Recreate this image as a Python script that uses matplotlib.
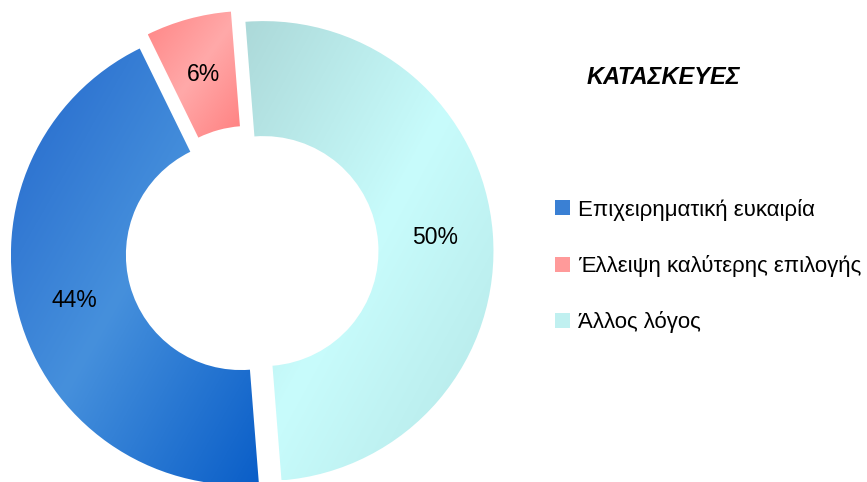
import numpy as np
import matplotlib
matplotlib.use("Agg")
import matplotlib.pyplot as plt
from matplotlib.colors import LinearSegmentedColormap
from matplotlib.patches import Rectangle

plt.rcParams['font.family'] = ['Liberation Sans', 'DejaVu Sans']

# data
labels = ["Επιχειρηματική ευκαιρία", "Έλλειψη καλύτερης επιλογής", "Άλλος λόγος"]
values = [44, 6, 50]
pct_labels = ["44%", "6%", "50%"]
title = "ΚΑΤΑΣΚΕΥΕΣ"

# gradient stops per slice (edge, middle, edge)
grads = [
    ["#2468cc", "#4690dc", "#0a5ec8"],
    ["#ff8585", "#ffa9a9", "#ff8080"],
    ["#acd9d9", "#c8fcfc", "#b4e6e6"],
]
legend_cols = ["#3a80d4", "#ff9a9a", "#c0f0f0"]

W, H = 867, 482
fig = plt.figure(figsize=(W / 100, H / 100), dpi=100)

L = 1.1
R = 230.0
side = 2 * L * R
cx, cy = 252, H - 252
ax = fig.add_axes([(cx - side / 2) / W, (cy - side / 2) / H, side / W, side / H])

wedges, texts, autotexts = ax.pie(
    values, startangle=274.5, counterclock=False,
    explode=[0.05, 0.05, 0.05], radius=1.0,
    wedgeprops=dict(width=0.5, linewidth=0),
    autopct=lambda p: "", pctdistance=0.75,
)

for w, g in zip(wedges, grads):
    bb = w.get_path().get_extents()
    cmap = LinearSegmentedColormap.from_list("g", g)
    n = 200
    u = np.linspace(0, 1, n)
    uu, vv = np.meshgrid(u, u)
    grad = (uu + vv) / 2
    w.set_facecolor("none")
    im = ax.imshow(grad, cmap=cmap, extent=[bb.x0, bb.x1, bb.y0, bb.y1],
                   origin="upper", interpolation="bilinear", zorder=1)
    im.set_clip_path(w)

# percent labels, placed at the middle of each ring segment
for w, t in zip(wedges, pct_labels):
    mid = np.deg2rad((w.theta1 + w.theta2) / 2)
    x0, y0 = w.center
    ax.text(x0 + 0.75 * np.cos(mid), y0 + 0.75 * np.sin(mid), t,
            ha="center", va="center", fontsize=16.5, zorder=3)

ax.set_xlim(-L, L)
ax.set_ylim(-L, L)
ax.set_aspect("auto")
ax.axis("off")

fig.text(663 / W, 1 - 77 / H, title, ha="center", va="center",
         fontsize=17, fontweight="bold", fontstyle="italic")

handles = [Rectangle((0, 0), 1, 1, facecolor=c, edgecolor="none") for c in legend_cols]
fig.legend(handles, labels, loc="center left", bbox_to_anchor=(555 / W, 1 - 266 / H),
           frameon=False, fontsize=16, handlelength=0.68, handleheight=0.68,
           handletextpad=0.36, labelspacing=1.55, borderpad=0, borderaxespad=0)

fig.savefig("out.png", dpi=100)
